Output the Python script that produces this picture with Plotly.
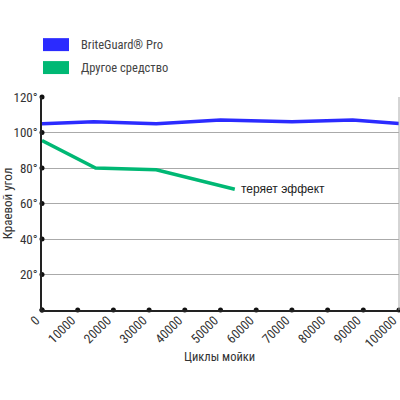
import plotly.graph_objects as go

x_ticks = [0, 10000, 20000, 30000, 40000, 50000, 60000, 70000, 80000, 90000, 100000]
y_ticks = [0, 20, 40, 60, 80, 100, 120]
y_tick_labels = ["", "20°", "40°", "60°", "80°", "100°", "120°"]

brite_x = [0, 14500, 32000, 50000, 70000, 87000, 100000]
brite_y = [105, 106, 105, 107, 106, 107, 105]

other_x = [0, 15000, 32000, 54000]
other_y = [95.5, 80, 79, 68]

blue = "#2b2bff"
green = "#00b874"
font_c = "Liberation Sans Narrow, Roboto Condensed, Roboto, sans-serif"

fig = go.Figure()
fig.add_trace(go.Scatter(x=brite_x, y=brite_y, mode="lines", line=dict(color=blue, width=3.5),
                         showlegend=False, cliponaxis=False))
fig.add_trace(go.Scatter(x=other_x, y=other_y, mode="lines", line=dict(color=green, width=3.5),
                         showlegend=False, cliponaxis=False))
# axis dots
fig.add_trace(go.Scatter(x=x_ticks, y=[0]*len(x_ticks), mode="markers",
                         marker=dict(color="#111", size=5), showlegend=False, cliponaxis=False))
fig.add_trace(go.Scatter(x=[0]*len(y_ticks), y=y_ticks, mode="markers",
                         marker=dict(color="#111", size=5), showlegend=False, cliponaxis=False))

fig.add_annotation(x=other_x[-1], y=other_y[-1], text="теряет эффект", showarrow=False,
                   xanchor="left", yanchor="middle", xshift=4,
                   font=dict(family="Liberation Sans, Arial, sans-serif", size=12, color="#222"))

# legend
def px2paper(px, py):
    return (px - 42) / 356.7, (310.5 - py) / 213.5

for (col, name, y0, y1) in [(blue, "BriteGuard® Pro", 38, 51), (green, "Другое средство", 61, 74)]:
    xa, ya = px2paper(43, y1)
    xb, yb = px2paper(69, y0)
    fig.add_shape(type="rect", xref="paper", yref="paper", x0=xa, x1=xb, y0=ya, y1=yb,
                  fillcolor=col, line=dict(width=0))
    tx, ty = px2paper(79, (y0 + y1) / 2)
    fig.add_annotation(xref="paper", yref="paper", x=tx, y=ty, text=name, showarrow=False,
                       xanchor="left", yanchor="middle",
                       font=dict(family=font_c, size=12.5, color="#444"))

# x-axis title
tx, ty = px2paper(219, 357)
fig.add_annotation(xref="paper", yref="paper", x=tx, y=ty, text="Циклы мойки", showarrow=False,
                   xanchor="center", yanchor="middle",
                   font=dict(family=font_c, size=12.5, color="#333"))

# right border line
fig.add_shape(type="line", xref="paper", yref="paper", x0=1, x1=1, y0=0, y1=1,
              line=dict(color="#aaa", width=1))

fig.update_layout(
    width=400, height=400,
    margin=dict(l=42, r=1.3, t=97, b=89.5),
    plot_bgcolor="white", paper_bgcolor="white",
    font=dict(family=font_c, size=13, color="#333"),
    xaxis=dict(range=[0, 100000], tickvals=x_ticks, ticktext=[str(v) for v in x_ticks],
               tickangle=-45, showgrid=False, zeroline=False, showline=True,
               linecolor="#222", linewidth=1.5, ticks="", ticklen=0,
               ticklabeloverflow="allow", ticklabelshift=-6, ticklabelstandoff=-4,
               tickfont=dict(size=13, color="#333")),
    yaxis=dict(range=[0, 120], tickvals=y_ticks, ticktext=y_tick_labels,
               showgrid=True, gridcolor="#aaa", gridwidth=1, zeroline=False,
               showline=True, linecolor="#222", linewidth=1.5, ticks="",
               title=dict(text="Краевой угол", font=dict(size=13, color="#333"), standoff=2),
               tickfont=dict(size=13, color="#333")),
)

fig.write_html("out.html")
